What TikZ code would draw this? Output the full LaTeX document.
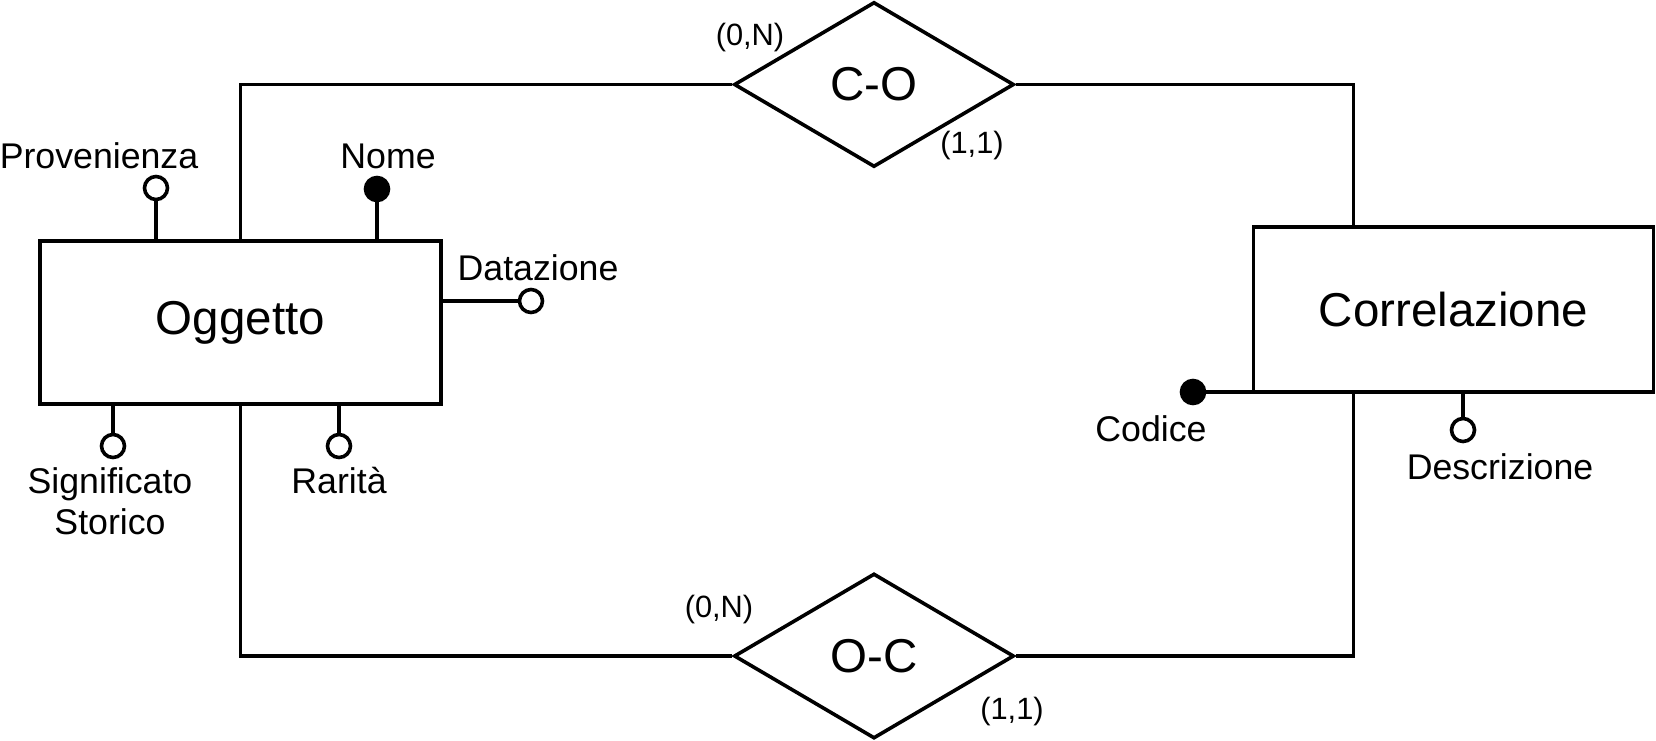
\documentclass[tikz,border=0pt]{standalone}
\usepackage{fontspec}
\setmainfont{Liberation Sans}
\usetikzlibrary{shapes.geometric,calc}
\tikzset{
  entity/.style={draw, rectangle, inner sep=0pt, font=\fontsize{47.5}{54}\selectfont},
  relation/.style={draw, diamond, inner sep=0pt, minimum width=280pt, minimum height=165pt, font=\fontsize{47.5}{54}\selectfont},
  attr/.style={draw, circle, fill=white, minimum size=23pt, inner sep=0pt},
  keyattr/.style={draw, circle, fill=black, minimum size=23pt, inner sep=0pt},
  alabel/.style={inner sep=0pt, font=\fontsize{35.7}{41}\selectfont, align=center},
  card/.style={inner sep=0pt, font=\fontsize{30.8}{35}\selectfont},
}
\begin{document}
\begin{tikzpicture}[x=1pt,y=-1pt,line width=3.6pt]
\useasboundingbox (0,0) rectangle (1656,740);
% entities
\node[entity, minimum width=401pt, minimum height=163pt] (ogg) at (240.5,322.5) {Oggetto};
\node[entity, minimum width=400pt, minimum height=165pt] (corr) at (1453.5,309.5) {Correlazione};
% relationships
\node[relation] (co) at (874,84.5) {C-O};
\node[relation] (oc) at (874,656) {O-C};
% connectors
\coordinate (ct) at ($(corr.north west)!0.2525!(corr.north east)$);
\coordinate (cb) at ($(corr.south west)!0.2525!(corr.south east)$);
\draw (ogg.north) |- (co.west);
\draw (co.east) -| (ct);
\draw (ogg.south) |- (oc.west);
\draw (oc.east) -| (cb);
% attributes of Oggetto
\node[attr] (prov) at (156,188) {};
\draw (prov) -- (prov |- ogg.north);
\node[alabel] (provl) at (99,156) {Provenienza};
\node[keyattr] (nome) at (377,189) {};
\draw (nome) -- (nome |- ogg.north);
\node[alabel] (nomel) at (388,156) {Nome};
\node[attr] (dat) at (531,301) {};
\draw (dat) -- (dat -| ogg.east);
\node[alabel] (datl) at (538,268) {Datazione};
\node[attr] (sig) at (113,446) {};
\draw (sig) -- (sig |- ogg.south);
\node[alabel] (sigl) at (110,501) {Significato\\Storico};
\node[attr] (rar) at (339,446) {};
\draw (rar) -- (rar |- ogg.south);
\node[alabel] (rarl) at (339,481) {Rarità};
% attributes of Correlazione
\node[keyattr] (cod) at (1193,392) {};
\draw (cod) -- (cod -| corr.west);
\node[alabel] (codl) at (1151,429) {Codice};
\node[attr] (desc) at (1463,430) {};
\draw (desc) -- (desc |- corr.south);
\node[alabel] (descl) at (1500,467) {Descrizione};
% cardinalities
\node[card] (c1) at (750,38) {(0,N)};
\node[card] (c2) at (972,146) {(1,1)};
\node[card] (c3) at (719,610) {(0,N)};
\node[card] (c4) at (1012,712) {(1,1)};
\end{tikzpicture}
\end{document}
